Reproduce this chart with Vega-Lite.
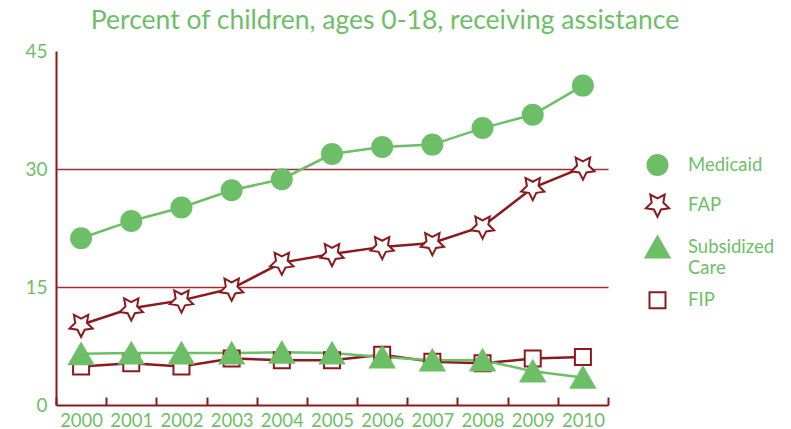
{
  "$schema": "https://vega.github.io/schema/vega-lite/v6.json",
  "width": 552,
  "height": 354,
  "autosize": {"type": "none"},
  "padding": {"left": 56, "top": 51, "right": 183, "bottom": 24},
  "background": "white",
  "config": {"view": {"stroke": null}, "font": "Lato"},
  "title": {
    "text": "Percent of children, ages 0-18, receiving assistance",
    "fontSize": 26.5,
    "font": "Lato",
    "fontWeight": "normal",
    "color": "#6dbf67",
    "anchor": "middle",
    "dx": 53,
    "offset": 8
  },
  "data": {
    "values": [
      {"series": "FIP", "year": 2000, "pct": 4.9},
      {"series": "FIP", "year": 2001, "pct": 5.3},
      {"series": "FIP", "year": 2002, "pct": 4.9},
      {"series": "FIP", "year": 2003, "pct": 5.9},
      {"series": "FIP", "year": 2004, "pct": 5.7},
      {"series": "FIP", "year": 2005, "pct": 5.7},
      {"series": "FIP", "year": 2006, "pct": 6.4},
      {"series": "FIP", "year": 2007, "pct": 5.5},
      {"series": "FIP", "year": 2008, "pct": 5.3},
      {"series": "FIP", "year": 2009, "pct": 5.9},
      {"series": "FIP", "year": 2010, "pct": 6.1},
      {"series": "Subsidized Care", "year": 2000, "pct": 6.5},
      {"series": "Subsidized Care", "year": 2001, "pct": 6.6},
      {"series": "Subsidized Care", "year": 2002, "pct": 6.6},
      {"series": "Subsidized Care", "year": 2003, "pct": 6.6},
      {"series": "Subsidized Care", "year": 2004, "pct": 6.7},
      {"series": "Subsidized Care", "year": 2005, "pct": 6.6},
      {"series": "Subsidized Care", "year": 2006, "pct": 6.1},
      {"series": "Subsidized Care", "year": 2007, "pct": 5.7},
      {"series": "Subsidized Care", "year": 2008, "pct": 5.7},
      {"series": "Subsidized Care", "year": 2009, "pct": 4.3},
      {"series": "Subsidized Care", "year": 2010, "pct": 3.5},
      {"series": "FAP", "year": 2000, "pct": 10.2},
      {"series": "FAP", "year": 2001, "pct": 12.3},
      {"series": "FAP", "year": 2002, "pct": 13.3},
      {"series": "FAP", "year": 2003, "pct": 14.8},
      {"series": "FAP", "year": 2004, "pct": 18.1},
      {"series": "FAP", "year": 2005, "pct": 19.2},
      {"series": "FAP", "year": 2006, "pct": 20.1},
      {"series": "FAP", "year": 2007, "pct": 20.6},
      {"series": "FAP", "year": 2008, "pct": 22.7},
      {"series": "FAP", "year": 2009, "pct": 27.6},
      {"series": "FAP", "year": 2010, "pct": 30.2},
      {"series": "Medicaid", "year": 2000, "pct": 21.2},
      {"series": "Medicaid", "year": 2001, "pct": 23.4},
      {"series": "Medicaid", "year": 2002, "pct": 25.1},
      {"series": "Medicaid", "year": 2003, "pct": 27.3},
      {"series": "Medicaid", "year": 2004, "pct": 28.7},
      {"series": "Medicaid", "year": 2005, "pct": 31.9},
      {"series": "Medicaid", "year": 2006, "pct": 32.8},
      {"series": "Medicaid", "year": 2007, "pct": 33.1},
      {"series": "Medicaid", "year": 2008, "pct": 35.2},
      {"series": "Medicaid", "year": 2009, "pct": 36.9},
      {"series": "Medicaid", "year": 2010, "pct": 40.6}
    ]
  },
  "encoding": {
    "x": {
      "field": "year",
      "type": "quantitative",
      "scale": {"domain": [1999.5, 2010.5], "nice": false, "zero": false},
      "axis": {
        "title": null,
        "values": [1999.5, 2000.5, 2001.5, 2002.5, 2003.5, 2004.5, 2005.5, 2006.5, 2007.5, 2008.5, 2009.5, 2010.5],
        "labelExpr": "datum.value > 2010 ? '' : format(datum.value + 0.5, 'd')",
        "labelOffset": 25.09,
        "labelFlush": false,
        "labelOverlap": false,
        "labelBound": false,
        "labelFont": "Lato",
        "labelFontSize": 18.5,
        "labelColor": "#6dbf67",
        "labelPadding": 14,
        "domainColor": "#8b1a1f",
        "domainWidth": 2,
        "tickColor": "#8b1a1f",
        "tickWidth": 2,
        "tickSize": -8,
        "grid": false
      }
    },
    "y": {
      "field": "pct",
      "type": "quantitative",
      "scale": {"domain": [0, 45], "nice": false},
      "axis": {
        "title": null,
        "values": [0, 15, 30, 45],
        "format": "d",
        "ticks": false,
        "labelPadding": 9,
        "labelFont": "Lato",
        "labelFontSize": 19,
        "labelColor": "#6dbf67",
        "domainColor": "#8b1a1f",
        "domainWidth": 2,
        "grid": true,
        "gridColor": "#9b2f35",
        "gridWidth": 1.4,
        "gridOpacity": {"condition": {"test": "datum.value === 15 || datum.value === 30", "value": 1}, "value": 0}
      }
    },
    "stroke": {
      "field": "series",
      "type": "nominal",
      "scale": {"domain": ["Medicaid", "FAP", "Subsidized Care", "FIP"], "range": ["#6dbf67", "#8b1a1f", "#6dbf67", "#8b1a1f"]}
    }
  },
  "layer": [
    {
      "mark": {"type": "line", "strokeWidth": 2.5}
    },
    {
      "mark": {"type": "point", "opacity": 1, "strokeWidth": 2},
      "encoding": {
        "shape": {
          "field": "series",
          "type": "nominal",
          "scale": {
            "domain": ["Medicaid", "FAP", "Subsidized Care", "FIP"],
            "range": ["circle", "M0,1L-0.294,0.405L-0.951,0.309L-0.476,-0.155L-0.588,-0.809L0,-0.5L0.588,-0.809L0.476,-0.155L0.951,0.309L0.294,0.405Z", "triangle-up", "square"]
          },
          "legend": {
            "title": null,
            "orient": "none",
            "legendX": 588,
            "legendY": 103,
            "padding": 0,
            "rowPadding": 11,
            "labelFont": "Lato",
            "labelFontSize": 18.5,
            "labelColor": "#6dbf67",
            "labelOffset": 17,
            "labelLimit": 200,
            "symbolStrokeWidth": 2,
            "labelExpr": "datum.label === 'Subsidized Care' ? ['Subsidized', 'Care'] : datum.label",
            "encode": {
              "labels": {
                "lineHeight": {"value": 18},
                "dy": {"value": {"expr": "datum.value === 'Subsidized Care' ? -9 : 0"}}
              }
            }
          }
        },
        "fill": {
          "field": "series",
          "type": "nominal",
          "scale": {"domain": ["Medicaid", "FAP", "Subsidized Care", "FIP"], "range": ["#6dbf67", "#ffffff", "#6dbf67", "#ffffff"]}
        },
        "size": {
          "field": "series",
          "type": "nominal",
          "scale": {"type": "ordinal", "domain": ["Medicaid", "FAP", "Subsidized Care", "FIP"], "range": [400, 600, 576, 256]}
        }
      }
    }
  ]
}
